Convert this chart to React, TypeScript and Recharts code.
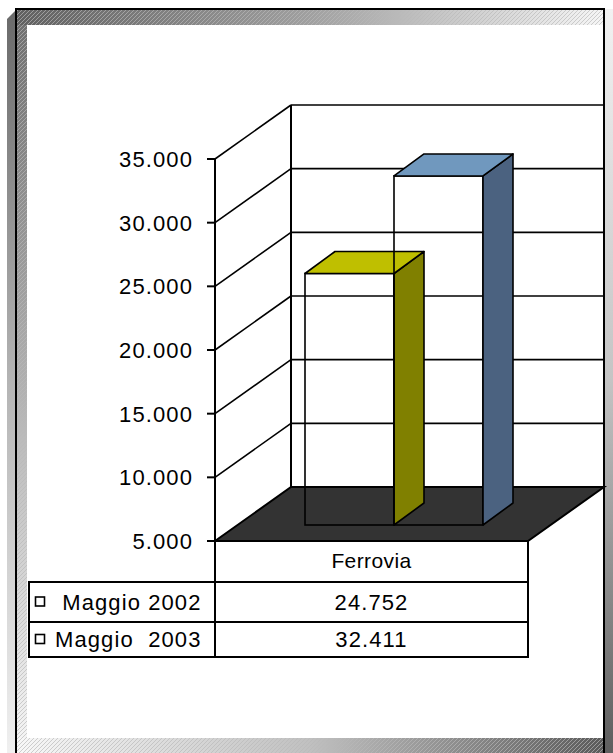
import React from 'react';
import { BarChart, Bar, XAxis, YAxis, CartesianGrid } from 'recharts';

// ---------- data ----------
const categories = ['Ferrovia'];
const seriesNames = [' Maggio 2002', 'Maggio  2003'];
const values2002 = [24752];
const values2003 = [32411];
const yTicks = [5000, 10000, 15000, 20000, 25000, 30000, 35000];

const data = categories.map((c, i) => ({ name: c, m2002: values2002[i], m2003: values2003[i] }));

// ---------- layout ----------
const W = 613;
const H = 753;
const PLOT = { left: 215, top: 159, right: 528, bottom: 541 };
const WALL_DX = 76;
const WALL_DY = 54;
const SHIFT_X = 22;
const SHIFT_Y = 16;
const BAR_DX = 30;
const BAR_DY = 22;
const FONT = '"Liberation Sans", Arial, Helvetica, sans-serif';
const FS = 22;
const LS = 1.1;

const fmt = (v: number) => String(Math.round(v)).replace(/\B(?=(\d{3})+(?!\d))/g, '.');

const GridLine = (props: any) => {
  const { x1, y1, x2, index } = props;
  const top = props.y != null ? props.y : PLOT.top;
  const bottom = props.y != null && props.height != null ? props.y + props.height : PLOT.bottom;
  const isFloor = Math.abs(y1 - bottom) < 0.5;
  const isTop = Math.abs(y1 - top) < 0.5;
  return (
    <g key={`g-${index}`}>
      {isFloor ? (
        <polygon
          points={`${x1},${y1} ${x1 + WALL_DX},${y1 - WALL_DY} ${x2 + WALL_DX},${y1 - WALL_DY} ${x2},${y1}`}
          fill="#333333"
          stroke="#000"
          strokeWidth={2}
          strokeLinejoin="miter"
        />
      ) : (
        <g>
          <line x1={x1} y1={y1} x2={x1 + WALL_DX} y2={y1 - WALL_DY} stroke="#000" strokeWidth={1.6} />
          <line x1={x1 + WALL_DX} y1={y1 - WALL_DY} x2={x2 + WALL_DX} y2={y1 - WALL_DY} stroke="#000" strokeWidth={1.6} />
        </g>
      )}
      {isTop && (
        <line x1={x1 + WALL_DX} y1={y1 - WALL_DY} x2={x1 + WALL_DX} y2={bottom - WALL_DY} stroke="#000" strokeWidth={2} />
      )}
    </g>
  );
};

const Bar3D = (props: any) => {
  const { x, y, width, height, topColor, sideColor } = props;
  const fx = x + SHIFT_X;
  const fy = y - SHIFT_Y;
  const fb = fy + height;
  const r = fx + width;
  return (
    <g>
      <rect x={fx} y={fy} width={width} height={height} fill="none" stroke="#000" strokeWidth={1.6} />
      <polygon
        points={`${r},${fy} ${r + BAR_DX},${fy - BAR_DY} ${r + BAR_DX},${fb - BAR_DY} ${r},${fb}`}
        fill={sideColor}
        stroke="#000"
        strokeWidth={1.6}
        strokeLinejoin="round"
      />
      <polygon
        points={`${fx},${fy} ${fx + BAR_DX},${fy - BAR_DY} ${r + BAR_DX},${fy - BAR_DY} ${r},${fy}`}
        fill={topColor}
        stroke="#000"
        strokeWidth={1.6}
        strokeLinejoin="round"
      />
    </g>
  );
};

const YTick = (props: any) => {
  const { x, y, payload } = props;
  return (
    <text x={x} y={y} dy="0.36em" textAnchor="end" fontFamily={FONT} fontSize={FS} letterSpacing={LS} fill="#000">
      {fmt(payload.value)}
    </text>
  );
};

const Frame = () => (
  <svg width={W} height={H} style={{ position: 'absolute', left: 0, top: 0 }}>
    <defs>
      <pattern id="hatch" patternUnits="userSpaceOnUse" width="4" height="4">
        <path d="M-1,1 l2,-2 M0,4 l4,-4 M3,5 l2,-2" stroke="#b8b8b8" strokeWidth="0.9" opacity="0.75" />
      </pattern>
      <linearGradient id="gTop" x1="0" y1="0" x2="1" y2="0">
        <stop offset="0" stopColor="#606060" />
        <stop offset="0.5" stopColor="#a0a0a0" />
        <stop offset="1" stopColor="#f6f6f6" />
      </linearGradient>
      <linearGradient id="gBottom" x1="0" y1="0" x2="1" y2="0">
        <stop offset="0" stopColor="#f8f8f8" />
        <stop offset="0.5" stopColor="#c0c0c0" />
        <stop offset="1" stopColor="#5a5a5a" />
      </linearGradient>
      <linearGradient id="gLeft" x1="0" y1="0" x2="0" y2="1">
        <stop offset="0" stopColor="#707070" />
        <stop offset="0.5" stopColor="#b0b0b0" />
        <stop offset="1" stopColor="#f4f4f4" />
      </linearGradient>
      <linearGradient id="gShadowL" x1="0" y1="0" x2="0" y2="1">
        <stop offset="0" stopColor="#6a6a6a" />
        <stop offset="0.5" stopColor="#b4b4b4" />
        <stop offset="1" stopColor="#f0f0f0" />
      </linearGradient>
      <linearGradient id="gShadowR" x1="0" y1="0" x2="0" y2="1">
        <stop offset="0" stopColor="#f2f2f2" />
        <stop offset="0.5" stopColor="#c4c4c4" />
        <stop offset="1" stopColor="#5e5e5e" />
      </linearGradient>
    </defs>
    <rect x={0} y={0} width={W} height={H} fill="#ffffff" />
    <polygon points={`7,19 16,10 16,${H} 7,${H}`} fill="url(#gShadowL)" />
    <rect x={605} y={9} width={8} height={H - 9} fill="url(#gShadowR)" />
    <rect x={16} y={9} width={589} height={H - 9} fill="#ffffff" />
    <rect x={17} y={10} width={587} height={15} fill="url(#gTop)" />
    <rect x={17} y={10} width={587} height={15} fill="url(#hatch)" />
    <rect x={17} y={25} width={10} height={713} fill="url(#gLeft)" />
    <rect x={17} y={25} width={10} height={713} fill="url(#hatch)" />
    <rect x={17} y={738} width={587} height={15} fill="url(#gBottom)" />
    <rect x={17} y={738} width={587} height={15} fill="url(#hatch)" />
    <line x1={16} y1={9} x2={16} y2={H} stroke="#000" strokeWidth={2} />
    <line x1={15} y1={9} x2={605} y2={9} stroke="#000" strokeWidth={2} />
    <line x1={604} y1={8} x2={604} y2={H} stroke="#000" strokeWidth={2} />
  </svg>
);

const TABLE_LEFT = 29;
const ROW_LINES = [582, 622, 657];

const Table = () => {
  const cx = (PLOT.left + PLOT.right) / 2;
  const seriesValues = [values2002[0], values2003[0]];
  return (
    <svg width={W} height={H} style={{ position: 'absolute', left: 0, top: 0, pointerEvents: 'none' }}>
      <line x1={PLOT.left} y1={PLOT.bottom} x2={PLOT.left} y2={ROW_LINES[2]} stroke="#000" strokeWidth={2} />
      <line x1={PLOT.right} y1={PLOT.bottom} x2={PLOT.right} y2={ROW_LINES[2]} stroke="#000" strokeWidth={2} />
      <line x1={TABLE_LEFT} y1={ROW_LINES[0]} x2={TABLE_LEFT} y2={ROW_LINES[2]} stroke="#000" strokeWidth={2} />
      {ROW_LINES.map((y, i) => (
        <line key={i} x1={TABLE_LEFT - 1} y1={y} x2={PLOT.right + 1} y2={y} stroke="#000" strokeWidth={2} />
      ))}
      <text x={cx} y={(PLOT.bottom + ROW_LINES[0]) / 2} dy="0.3em" textAnchor="middle" fontFamily={FONT} fontSize={FS - 1} letterSpacing={0.4} fill="#000">
        {categories[0]}
      </text>
      {seriesNames.map((name, i) => {
        const top = ROW_LINES[i];
        const bot = ROW_LINES[i + 1];
        const my = (top + bot) / 2;
        return (
          <g key={name}>
            <rect x={35.5} y={my - 5} width={9} height={9} fill="#fff" stroke="#000" strokeWidth={1.6} />
            <text x={55} y={my} dy="0.36em" fontFamily={FONT} fontSize={FS} letterSpacing={LS} fill="#000" style={{ whiteSpace: 'pre' }}>
              {name}
            </text>
            <text x={cx} y={my} dy="0.36em" textAnchor="middle" fontFamily={FONT} fontSize={FS} letterSpacing={LS} fill="#000">
              {fmt(seriesValues[i])}
            </text>
          </g>
        );
      })}
    </svg>
  );
};

export default function App() {
  return (
    <div style={{ position: 'absolute', left: 0, top: 0, width: W, height: H, background: '#fff' }}>
      <Frame />
      <div style={{ position: 'absolute', left: 0, top: 0 }}>
        <BarChart
          width={W}
          height={H}
          data={data}
          margin={{ top: PLOT.top, left: PLOT.left - 100, right: W - PLOT.right, bottom: H - PLOT.bottom }}
          barGap={0}
          barSize={89}
        >
          <CartesianGrid vertical={false} horizontal={(p: any) => <GridLine {...p} />} />
          <XAxis dataKey="name" hide />
          <YAxis
            type="number"
            domain={[5000, 35000]}
            ticks={yTicks}
            width={100}
            tickSize={8}
            tickMargin={14}
            tickLine={{ stroke: '#000', strokeWidth: 2 }}
            axisLine={{ stroke: '#000', strokeWidth: 2 }}
            tick={<YTick />}
            interval={0}
          />
          <Bar dataKey="m2002" isAnimationActive={false} shape={(p: any) => <Bar3D {...p} topColor="#BFBF00" sideColor="#808000" />} />
          <Bar dataKey="m2003" isAnimationActive={false} shape={(p: any) => <Bar3D {...p} topColor="#7098BE" sideColor="#4B6280" />} />
        </BarChart>
      </div>
      <Table />
    </div>
  );
}
